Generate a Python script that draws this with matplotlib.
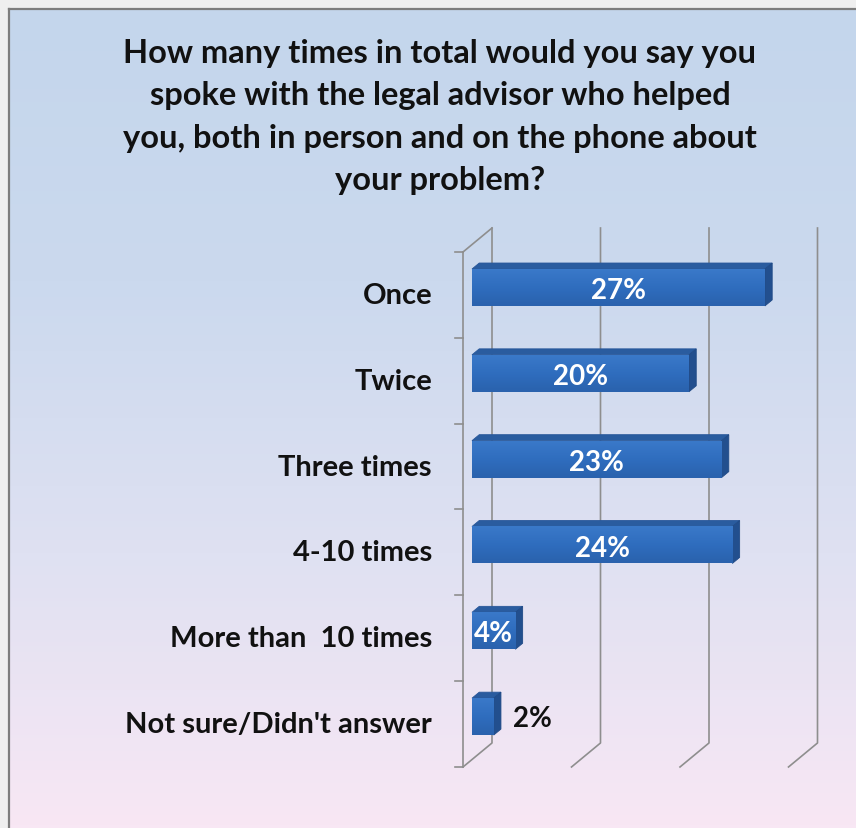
import numpy as np
import matplotlib.pyplot as plt
from matplotlib.patches import Polygon
from matplotlib.colors import LinearSegmentedColormap

# ── data ──────────────────────────────────────────────────────────────
categories = ['Once', 'Twice', 'Three times', '4-10 times',
              'More than  10 times', "Not sure/Didn't answer"]
values = [27, 20, 23, 24, 4, 2]
grid_ticks = [0, 10, 20, 30]
title = ('How many times in total would you say you\n'
         'spoke with the legal advisor who helped\n'
         'you, both in person and on the phone about\n'
         'your problem?')

# ── geometry (pixels of the 856x829 picture) ──────────────────────────
W, H = 856, 829
PX_PER_PCT = 10.85      # horizontal scale of the value axis
X0_PX = 463             # front plane, 0 %
Y0_PX = 253             # front plane, top of first category band
BAND_PX = 85.83         # height of one category band
DEPTH_DX = 29 / PX_PER_PCT     # shift from front plane to back wall
DEPTH_DY = -24 / BAND_PX
BAR_D1, BAR_D2 = 0.31, 0.56    # bar front / back depth (0 front .. 1 back)
BAR_HALF = 0.215

FONT = ['Lato', 'DejaVu Sans']
GRID_C = '#8e8e8e'


def at_depth(x, y, d):
    return x + d * DEPTH_DX, y + d * DEPTH_DY


fig = plt.figure(figsize=(W / 100, H / 100), dpi=100)
fig.patch.set_facecolor('#efefef')

# chart area background: blue -> pink gradient
bg = fig.add_axes([9 / W, 0, 1 - 9 / W, (H - 10) / H])
cmap = LinearSegmentedColormap.from_list('bg', ['#c4d6ec', '#cbd9ee', '#dfe1f2', '#f8e7f4'])
bg.imshow(np.linspace(0, 1, 256).reshape(-1, 1), aspect='auto', cmap=cmap,
          extent=[0, 1, 0, 1], origin='upper')
bg.set_xlim(0, 1)
bg.set_ylim(0, 1)
bg.set_xticks([])
bg.set_yticks([])
for side in ['right', 'bottom']:
    bg.spines[side].set_visible(False)
for side in ['left', 'top']:
    bg.spines[side].set_color('#7d7d7d')
    bg.spines[side].set_linewidth(1.6)

# main axes in (percent, category band) units over the whole figure
ax = fig.add_axes([0, 0, 1, 1])
xlim = ((0 - X0_PX) / PX_PER_PCT, (W - X0_PX) / PX_PER_PCT)
ylim = ((H - Y0_PX) / BAND_PX, (0 - Y0_PX) / BAND_PX)
ax.axis('off')
ax.patch.set_alpha(0)

n = len(categories)

# walls / gridlines
for t in grid_ticks:
    top = at_depth(t, 0, 1)
    bot = at_depth(t, n, 1)
    front = at_depth(t, n, 0)
    ax.plot([top[0], bot[0], front[0]], [top[1], bot[1], front[1]],
            color=GRID_C, lw=1.2, zorder=1)
ax.plot([0, 0], [0, n], color=GRID_C, lw=1.2, zorder=1)
tl = at_depth(0, 0, 1)
ax.plot([0, tl[0]], [0, tl[1]], color=GRID_C, lw=1.2, zorder=1)
for k in range(n + 1):
    ax.plot([-8 / PX_PER_PCT, 0], [k, k], color=GRID_C, lw=1.2, zorder=1)

face_cmap = LinearSegmentedColormap.from_list('face', ['#3a79c9', '#2f6dbe', '#2a62ad'])
grad = np.linspace(0, 1, 64).reshape(-1, 1)

# 3-D looking bars
for i, (cat, v) in enumerate(zip(categories, values)):
    yc = i + 0.5
    y_top, y_bot = yc - BAR_HALF, yc + BAR_HALF
    fx0, fy0 = at_depth(0, y_top, BAR_D1)
    fx1, fy1 = at_depth(v, y_bot, BAR_D1)
    ax.imshow(grad, aspect='auto', cmap=face_cmap, extent=[fx0, fx1, fy1, fy0],
              origin='upper', zorder=3, interpolation='bilinear')
    top_face = [at_depth(0, y_top, BAR_D1), at_depth(v, y_top, BAR_D1),
                at_depth(v, y_top, BAR_D2), at_depth(0, y_top, BAR_D2)]
    ax.add_patch(Polygon(top_face, closed=True, facecolor='#2a5c9f',
                         edgecolor='#28579a', lw=0.6, zorder=2))
    side = [at_depth(v, y_top, BAR_D1), at_depth(v, y_bot, BAR_D1),
            at_depth(v, y_bot, BAR_D2), at_depth(v, y_top, BAR_D2)]
    ax.add_patch(Polygon(side, closed=True, facecolor='#224f8e',
                         edgecolor='#204a86', lw=0.6, zorder=2))

    # category label
    ax.text(-31 / PX_PER_PCT, yc, cat, ha='right', va='center',
            fontsize=21, fontweight='bold', family=FONT, color='#111111')
    # value label
    cx = (fx0 + fx1) / 2
    cy = (fy0 + fy1) / 2
    if v >= 4:
        ax.text(cx, cy + 0.03, f'{v}%', ha='center', va='center', fontsize=20,
                fontweight='bold', family=FONT, color='white', zorder=5)
    else:
        sx = at_depth(v, y_top, BAR_D2)[0]
        ax.text(sx + 1.1, cy + 0.02, f'{v}%', ha='left', va='center', fontsize=20,
                fontweight='bold', family=FONT, color='#111111', zorder=5)

ax.set_xlim(*xlim)
ax.set_ylim(*ylim)

fig.text(440 / W, 1 - 117 / H, title, ha='center', va='center', fontsize=23.5,
         fontweight='bold', family=FONT, color='#111111', linespacing=1.55)

fig.savefig('out.png', dpi=100, facecolor=fig.get_facecolor())
